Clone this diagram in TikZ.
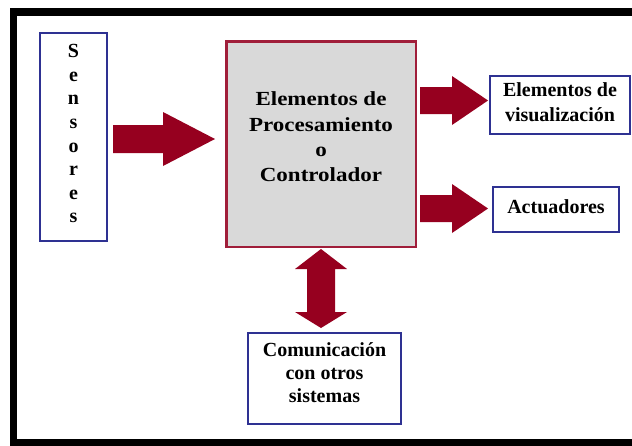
\documentclass[tikz,border=0pt]{standalone}
\usepackage{fontspec}
\setmainfont{Liberation Serif}
\newfontfamily\ctrlfont{Liberation Serif}[FakeStretch=1.15]
\usetikzlibrary{positioning,calc}
\definecolor{flechared}{HTML}{96001F}
\definecolor{bordered}{HTML}{A01E3A}
\definecolor{bordeblue}{HTML}{2E3192}
\definecolor{cajagray}{HTML}{D9D9D9}

\begin{document}
\begin{tikzpicture}[x=1pt,y=-1pt,
    caja/.style={draw=bordeblue,line width=2pt,inner sep=0pt,align=center,font=\fontsize{20}{24.5}\selectfont\bfseries},
    flecha/.style={fill=flechared}]
  \clip (0,0) rectangle (632,445);
  \draw[line width=7.5pt] (13.5,12) rectangle (700,443);
  \node[caja,minimum width=67pt,minimum height=208pt,text depth=6.6pt,font=\fontsize{20}{23.6}\selectfont\bfseries] (sens) at (73.5,137) {S\\e\\n\\s\\o\\r\\e\\s};
  \node[caja,draw=bordered,line width=2.5pt,fill=cajagray,minimum width=189.5pt,minimum height=205.5pt,text depth=14.4pt,font=\ctrlfont\fontsize{20}{25.3}\selectfont\bfseries] (ctrl) at (321,144) {Elementos de\\Procesamiento\\o\\Controlador};
  \node[caja,minimum width=140pt,minimum height=58pt,text depth=5.8pt] (vis) at (560,105) {Elementos de\\visualización};
  \node[caja,minimum width=126pt,minimum height=45pt,text depth=6pt] (act) at (556,209.5) {Actuadores};
  \node[caja,minimum width=153pt,minimum height=91pt,text depth=11.4pt,font=\fontsize{20}{23}\selectfont\bfseries] (com) at (324.5,378.5) {Comunicación\\con otros\\sistemas};
  \fill[flecha] ([xshift=5pt,yshift=-2pt]sens.east) ++(0,-14) -- ++(50,0) -- ++(0,-13) -- ++(52,27) -- ++(-52,27) -- ++(0,-13) -- ++(-50,0) -- cycle;
  \foreach \b/\dy in {vis/-4.5,act/-1}{
    \fill[flecha] ($(ctrl.east |- \b.west)+(3,\dy)$) ++(0,-13.5) -- ++(32,0) -- ++(0,-11) -- ++(36,24.5) -- ++(-36,24.5) -- ++(0,-11) -- ++(-32,0) -- cycle;
  }
  \fill[flecha] ($(ctrl.south)+(0,1)$) -- ++(26,20) -- ++(-12,0) -- ++(0,43) -- ++(12,0) -- ++(-26,16) -- ++(-26,-16) -- ++(12,0) -- ++(0,-43) -- ++(-12,0) -- cycle;
\end{tikzpicture}
\end{document}
